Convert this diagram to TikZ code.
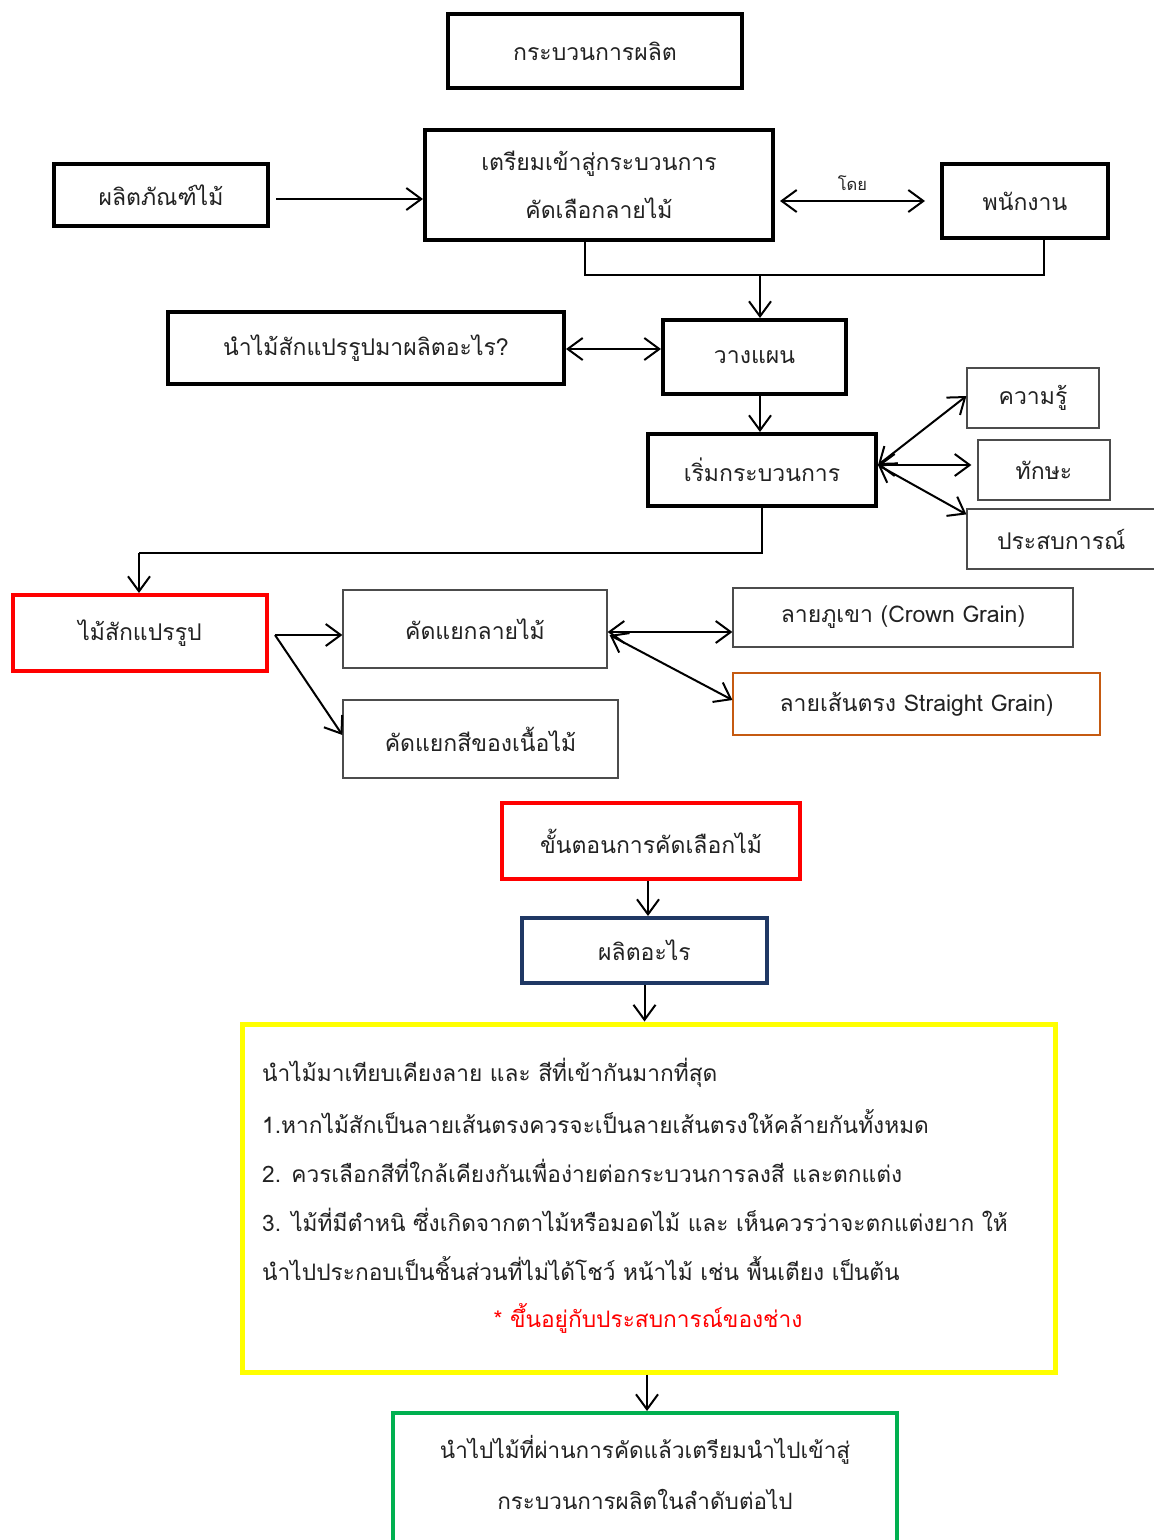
\documentclass[tikz,border=0pt]{standalone}
\usepackage{fontspec}
\setmainfont{Loma}[Script=Thai]
\usetikzlibrary{arrows.meta}
\definecolor{navy}{HTML}{1F3864}
\definecolor{brwn}{HTML}{C55A11}
\definecolor{grn}{HTML}{00B050}
\definecolor{ylw}{HTML}{FFFF00}
\definecolor{rd}{HTML}{FF0000}
\definecolor{txt}{HTML}{222222}
\tikzset{
  x=1pt, y=1pt,
  box/.style={draw, text=txt, inner sep=0pt, align=center, font=\fontsize{23}{48}\selectfont},
  thickbox/.style={box, line width=4pt},
  thinbox/.style={box, draw=black!70, line width=1.2pt},
  conn/.style={line width=2pt},
  arr/.style={conn, -{Straight Barb[length=15pt,width=22pt]}},
  darr/.style={conn, {Straight Barb[length=15pt,width=22pt]}-{Straight Barb[length=15pt,width=22pt]}},
  bodytext/.style={anchor=west, inner sep=0pt, text=txt, font=\fontsize{22.7}{26}\selectfont},
}
\begin{document}
\begin{tikzpicture}
\useasboundingbox (0,0) rectangle (1154,-1540);
\fill[white] (0,0) rectangle (1154,-1540);

% boxes
\node[thickbox, minimum width=294, minimum height=74] (title) at (595,-51) {กระบวนการผลิต};
\node[thickbox, minimum width=214, minimum height=62] (prod) at (161,-195) {ผลิตภัณฑ์ไม้};
\node[thickbox, minimum width=348, minimum height=110] (prep) at (599,-185) {เตรียมเข้าสู่กระบวนการ\\คัดเลือกลายไม้};
\node[thickbox, minimum width=166, minimum height=74] (staff) at (1025,-201) {พนักงาน};
\node[thickbox, minimum width=396, minimum height=72] (q) at (366,-348) {นำไม้สักแปรรูปมาผลิตอะไร?};
\node[thickbox, minimum width=183, minimum height=74] (plan) at (754.5,-357) {วางแผน};
\node[thickbox, minimum width=228, minimum height=72] (start) at (762,-470) {เริ่มกระบวนการ};
\node[thinbox, minimum width=132, minimum height=60] (know) at (1033,-398) {ความรู้};
\node[thinbox, minimum width=132, minimum height=60] (skill) at (1044,-470) {ทักษะ};
\node[thinbox, minimum width=194, minimum height=60, text width=194, align=left] (exp) at (1064,-539) {\hspace*{30pt}ประสบการณ์};
\node[thickbox, draw=rd, minimum width=254, minimum height=76] (teak) at (140,-633) {ไม้สักแปรรูป};
\node[thinbox, minimum width=264, minimum height=78] (sortgrain) at (475,-629) {คัดแยกลายไม้};
\node[thinbox, minimum width=275, minimum height=78] (sortcolor) at (480.5,-739) {คัดแยกสีของเนื้อไม้};
\node[thinbox, minimum width=340, minimum height=59] (crown) at (903,-617.5) {ลายภูเขา (Crown Grain)};
\node[thinbox, draw=brwn, minimum width=367, minimum height=62] (straight) at (916.5,-704) {ลายเส้นตรง Straight Grain)};
\node[thickbox, draw=rd, minimum width=298, minimum height=76] (steps) at (651,-841) {ขั้นตอนการคัดเลือกไม้};
\node[thickbox, draw=navy, minimum width=245, minimum height=65] (what) at (644.5,-950.5) {ผลิตอะไร};
\node[thickbox, draw=ylw, line width=5pt, minimum width=813, minimum height=348] (rules) at (648.5,-1198) {};
\node[thickbox, draw=grn, minimum width=504, minimum height=134] (final) at (645,-1480) {};

% yellow box text
\node[bodytext] (l0) at (262,-1073) {นำไม้มาเทียบเคียงลาย และ สีที่เข้ากันมากที่สุด};
\node[bodytext] (l1) at (262,-1122) {1.หากไม้สักเป็นลายเส้นตรงควรจะเป็นลายเส้นตรงให้คล้ายกันทั้งหมด};
\node[bodytext] (l2) at (262,-1171) {2. ควรเลือกสีที่ใกล้เคียงกันเพื่อง่ายต่อกระบวนการลงสี และตกแต่ง};
\node[bodytext] (l3) at (262,-1220) {3. ไม้ที่มีตำหนิ ซึ่งเกิดจากตาไม้หรือมอดไม้ และ เห็นควรว่าจะตกแต่งยาก ให้};
\node[bodytext] (l4) at (262,-1269) {นำไปประกอบเป็นชิ้นส่วนที่ไม่ได้โชว์ หน้าไม้ เช่น พื้นเตียง เป็นต้น};
\node[bodytext, anchor=center, text=rd] (l5) at (648,-1318) {* ขึ้นอยู่กับประสบการณ์ของช่าง};

% green box text
\node[bodytext, anchor=center, font=\fontsize{22.5}{26}\selectfont] (g1) at (645,-1450) {นำไปไม้ที่ผ่านการคัดแล้วเตรียมนำไปเข้าสู่};
\node[bodytext, anchor=center, font=\fontsize{22.5}{26}\selectfont] (g2) at (645,-1499) {กระบวนการผลิตในลำดับต่อไป};

% connectors
\draw[arr] ([xshift=6pt,yshift=-4pt]prod.east) -- ([yshift=-4pt]prod.east -| prep.west);
\draw[darr] ([xshift=5pt,yshift=-16pt]prep.east) -- node[above=6pt, text=txt, font=\fontsize{16.5}{18}\selectfont] (by) {โดย} ([xshift=-15pt]staff.west);
\coordinate (j1) at (760,-275);
\draw[conn, line width=1.5pt] ([xshift=-14pt]prep.south) |- ([xshift=19pt]staff.south |- j1) -- ([xshift=19pt]staff.south);
\draw[arr] (j1) -- (j1 |- plan.north);
\draw[darr] ([yshift=-1pt]q.east) -- ([yshift=-1pt]q.east -| plan.west);
\draw[arr] ([xshift=5.5pt]plan.south) -- ([xshift=5.5pt]plan.south |- start.north);
\draw[darr] ([yshift=5pt]start.east) -- ([yshift=2pt]know.west);
\draw[darr] ([yshift=5pt]start.east) -- ([xshift=-6pt,yshift=5pt]skill.west);
\draw[darr] ([yshift=5pt]start.east) -- ([yshift=-6pt]exp.north west);
\coordinate (j2) at (139,-553);
\draw[conn, line width=1.5pt] (start.south) |- (j2);
\draw[arr] (j2) -- (j2 |- teak.north);
\draw[arr] ([xshift=6pt,yshift=-2pt]teak.east) -- ([yshift=-2pt]teak.east -| sortgrain.west);
\draw[arr] ([xshift=6pt,yshift=-2pt]teak.east) -- ([yshift=4pt]sortcolor.west);
\draw[darr] ([yshift=-3pt]sortgrain.east) -- ([yshift=-3pt]sortgrain.east -| crown.west);
\draw[darr] ([xshift=2pt,yshift=-6pt]sortgrain.east) -- ([yshift=4pt]straight.west);
\draw[arr] ([xshift=-3pt]steps.south) -- ([xshift=-3pt]steps.south |- what.north);
\draw[arr] (what.south) -- (what.south |- rules.north);
\draw[arr] ([xshift=-1.5pt]rules.south) -- ([xshift=-1.5pt]rules.south |- final.north);
\end{tikzpicture}
\end{document}
